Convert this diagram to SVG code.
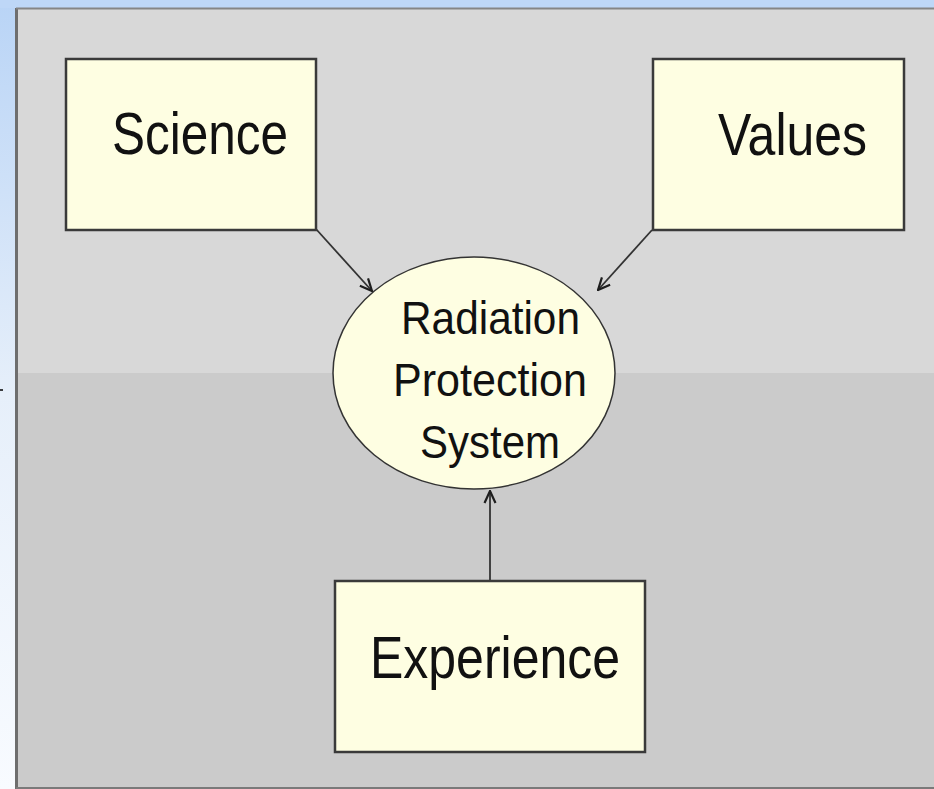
<svg xmlns="http://www.w3.org/2000/svg" width="934" height="789" viewBox="0 0 934 789">
<defs>
<linearGradient id="bg" x1="0" y1="0" x2="0" y2="1">
<stop offset="0" stop-color="#b9d4f6"/>
<stop offset="0.5" stop-color="#e6effa"/>
<stop offset="1" stop-color="#f8fbff"/>
</linearGradient>
<marker id="arr" viewBox="0 0 14 14" refX="13" refY="7" markerWidth="14" markerHeight="14" markerUnits="userSpaceOnUse" orient="auto">
<path d="M1,1.5 L13,7 L1,12.5" fill="none" stroke="#1e1e1e" stroke-width="2.2"/>
</marker>
<style>
.box{fill:#fefee2;stroke:#3a3a3a;stroke-width:2.5}
.ell{fill:#fefee2;stroke:#333;stroke-width:1.5}
.lbl{font-family:"Liberation Sans",Arial,sans-serif;fill:#111}
.con{stroke:#333;stroke-width:1.8;fill:none;marker-end:url(#arr)}
</style>
</defs>
<rect x="0" y="0" width="934" height="789" fill="url(#bg)"/>
<rect x="0" y="0" width="934" height="8" fill="#bed7f7"/>
<g id="panel">
<rect x="16" y="8" width="918" height="365" fill="#d8d8d8"/>
<rect x="16" y="373" width="918" height="416" fill="#cbcbcb"/>
<line x1="16.5" y1="8" x2="16.5" y2="789" stroke="#6e6e6e" stroke-width="3"/>
<line x1="16" y1="8.5" x2="934" y2="8.5" stroke="#858585" stroke-width="2"/>
<line x1="16" y1="788" x2="934" y2="788" stroke="#7a7a7a" stroke-width="2"/>
</g>
<line x1="0" y1="390" x2="3" y2="390" stroke="#000" stroke-width="1.5"/>
<g id="connectors">
<line class="con" x1="316" y1="229" x2="372" y2="291"/>
<line class="con" x1="652" y1="230" x2="598" y2="290"/>
<line class="con" x1="490" y1="581" x2="490" y2="491"/>
</g>
<g id="science">
<rect class="box" x="66" y="59" width="250" height="171"/>
<text class="lbl" x="112" y="154" font-size="59" textLength="176" lengthAdjust="spacingAndGlyphs">Science</text>
</g>
<g id="values">
<rect class="box" x="653" y="59" width="251" height="171"/>
<text class="lbl" x="718" y="155" font-size="59" textLength="149" lengthAdjust="spacingAndGlyphs">Values</text>
</g>
<g id="rps">
<ellipse class="ell" cx="474" cy="373" rx="141" ry="116"/>
<text class="lbl" x="401" y="334" font-size="47" textLength="179" lengthAdjust="spacingAndGlyphs">Radiation</text>
<text class="lbl" x="393" y="396" font-size="47" textLength="194" lengthAdjust="spacingAndGlyphs">Protection</text>
<text class="lbl" x="420" y="458" font-size="47" textLength="140" lengthAdjust="spacingAndGlyphs">System</text>
</g>
<g id="experience">
<rect class="box" x="335" y="581" width="310" height="171"/>
<text class="lbl" x="370" y="678" font-size="60" textLength="250" lengthAdjust="spacingAndGlyphs">Experience</text>
</g>
</svg>
